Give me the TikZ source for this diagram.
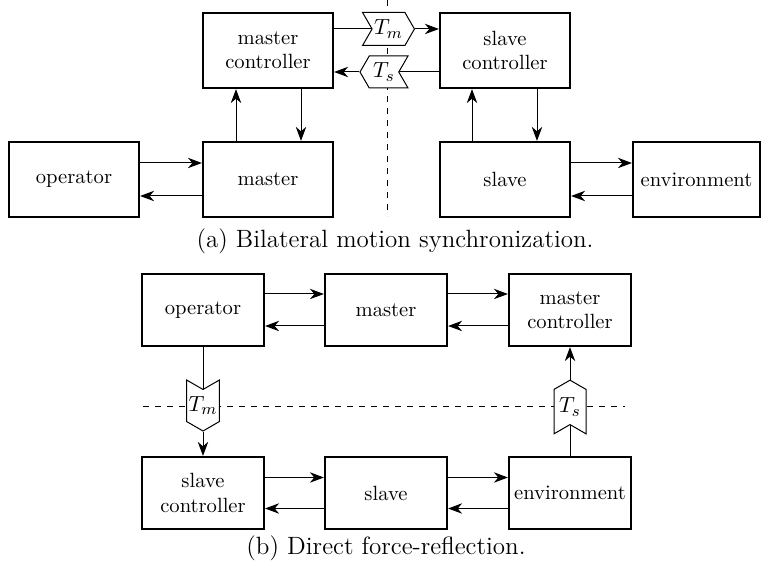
\documentclass[tikz,border=0pt]{standalone}
\usetikzlibrary{arrows.meta,shapes.symbols,backgrounds}
\begin{document}
\begin{tikzpicture}[x=0.5pt,y=-0.5pt,
  font=\fontsize{10.3}{12.2}\selectfont,
  blk/.style={draw,line width=1.1pt,minimum width=65pt,minimum height=37.5pt,inner sep=0pt,align=center,fill=white},
  blkb/.style={blk,minimum width=61pt,minimum height=36pt},
  con/.style={line width=0.5pt},
  arr/.style={con,-{Stealth[length=7pt,width=5.2pt,inset=2.2pt]}},
  sig/.style={draw,line width=0.5pt,fill=white,shape=signal,signal pointer angle=120,inner sep=1pt,font=\fontsize{11}{13}\selectfont},
  captext/.style={font=\fontsize{12.5}{15}\selectfont},
  dsh/.style={con,dashed}]
\useasboundingbox (0,0) rectangle (761,565);
% (a)
\node[blk] (mc1) at (268,50.5) {master\\controller};
\node[blk] (sc1) at (505,50.5) {slave\\controller};
\node[blk] (op1) at (74,179.5) {operator};
\node[blk] (ma1) at (268,179.5) {master};
\node[blk] (sl1) at (505,179.5) {slave};
\node[blk,minimum width=63.5pt] (en1) at (696.5,179.5) {environment};
\node[sig,signal to=east,signal from=west,minimum width=24.5pt,minimum height=16.5pt] (tm1) at (388.5,29) {$T_m$};
\node[sig,signal to=west,signal from=east,minimum width=24pt,minimum height=16pt] (ts1) at (384,72) {$T_s$};
\coordinate (d1a) at (387,0);
\coordinate (d1b) at (387,216);
\begin{scope}[on background layer]
  \draw[dsh] (d1a) -- (d1b);
  \draw[con] (mc1.east |- tm1.center) -- (tm1.center);
  \draw[con] (sc1.west |- ts1.center) -- (ts1.center);
\end{scope}
\draw[arr] (tm1.east) -- (sc1.west |- tm1.east);
\draw[arr] (ts1.west) -- (mc1.east |- ts1.west);
\draw[arr] ([xshift=-16pt]ma1.north) -- ([xshift=-16pt]mc1.south);
\draw[arr] ([xshift=16.5pt]mc1.south) -- ([xshift=16.5pt]ma1.north);
\draw[arr] ([xshift=-16.5pt]sl1.north) -- ([xshift=-16.5pt]sc1.south);
\draw[arr] ([xshift=16pt]sc1.south) -- ([xshift=16pt]sl1.north);
\draw[arr] ([yshift=8.25pt]op1.east) -- ([yshift=8.25pt]ma1.west);
\draw[arr] ([yshift=-8.25pt]ma1.west) -- ([yshift=-8.25pt]op1.east);
\draw[arr] ([yshift=8.25pt]sl1.east) -- ([yshift=8.25pt]en1.west);
\draw[arr] ([yshift=-8.25pt]en1.west) -- ([yshift=-8.25pt]sl1.east);
\node[captext] (capa) at (395,241) {(a) Bilateral motion synchronization.};
% (b)
\node[blkb] (op2) at (203,310) {operator};
\node[blkb] (ma2) at (386,310) {master};
\node[blkb] (mc2) at (570,310) {master\\controller};
\node[blkb] (sc2) at (203,493) {slave\\controller};
\node[blkb] (sl2) at (386,493) {slave};
\node[blkb] (en2) at (570,493) {environment};
\node[sig,signal to=south,signal from=north,minimum width=16pt,minimum height=25.5pt] (tm2) at (203,405.5) {$T_m$};
\node[sig,signal to=north,signal from=south,minimum width=16pt,minimum height=25pt] (ts2) at (570,407) {$T_s$};
\coordinate (d2a) at (143,407);
\coordinate (d2b) at (625,407);
\begin{scope}[on background layer]
  \draw[dsh] (d2a) -- (d2b);
  \draw[con] (op2.south) -- (tm2.center);
  \draw[con] (en2.north) -- (ts2.center);
\end{scope}
\draw[arr] (tm2.south) -- (sc2.north);
\draw[arr] (ts2.north) -- (mc2.south);
\draw[arr] ([yshift=8pt]op2.east) -- ([yshift=8pt]ma2.west);
\draw[arr] ([yshift=-8pt]ma2.west) -- ([yshift=-8pt]op2.east);
\draw[arr] ([yshift=8pt]ma2.east) -- ([yshift=8pt]mc2.west);
\draw[arr] ([yshift=-8pt]mc2.west) -- ([yshift=-8pt]ma2.east);
\draw[arr] ([yshift=7.75pt]sc2.east) -- ([yshift=7.75pt]sl2.west);
\draw[arr] ([yshift=-7.75pt]sl2.west) -- ([yshift=-7.75pt]sc2.east);
\draw[arr] ([yshift=7.75pt]sl2.east) -- ([yshift=7.75pt]en2.west);
\draw[arr] ([yshift=-7.75pt]en2.west) -- ([yshift=-7.75pt]sl2.east);
\node[captext] (capb) at (386,548) {(b) Direct force-reflection.};
\end{tikzpicture}
\end{document}
